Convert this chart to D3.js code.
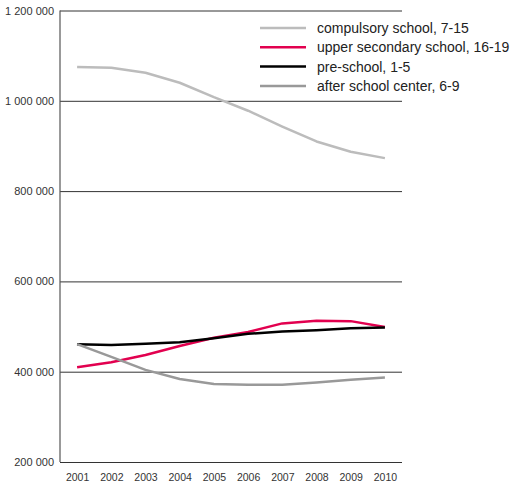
<!DOCTYPE html>
<html>
<head>
<meta charset="utf-8">
<script src="https://cdn.jsdelivr.net/npm/d3@7"></script>
<style>
  body { margin: 0; background: #fff; }
  svg { display: block; font-family: "Liberation Sans", Arial, sans-serif; }
</style>
</head>
<body>
<div id="chart-area"></div>
<script>
const FIGURE = { WIDTH: 522, HEIGHT: 483 };
const MARGINS = { LEFT: 60, TOP: 10.5, RIGHT: 120, BOTTOM: 21 };
const PLOT = {
    WIDTH: FIGURE.WIDTH - MARGINS.LEFT - MARGINS.RIGHT,
    HEIGHT: FIGURE.HEIGHT - MARGINS.TOP - MARGINS.BOTTOM
};

// data
const years = [2001, 2002, 2003, 2004, 2005, 2006, 2007, 2008, 2009, 2010];
const compulsory = [1075000, 1073000, 1062000, 1040000, 1008000, 978000, 943000, 910000, 887000, 873000];
const upperSecondary = [410000, 421000, 437000, 457000, 475000, 488000, 507000, 513000, 512000, 499000];
const preSchool = [461000, 459000, 462000, 465000, 474000, 484000, 489000, 492000, 496000, 498000];
const afterSchool = [461000, 433000, 404000, 384000, 373000, 371000, 371000, 376000, 382000, 387000];
const yTicks = [200000, 400000, 600000, 800000, 1000000, 1200000];

const series = [
    { name: "compulsory school, 7-15", values: compulsory, color: "#bcbcbc" },
    { name: "upper secondary school, 16-19", values: upperSecondary, color: "#e2004f" },
    { name: "pre-school, 1-5", values: preSchool, color: "#000000" },
    { name: "after school center, 6-9", values: afterSchool, color: "#999999" }
];

let svg = d3.select("#chart-area")
    .append("svg")
        .attr("width", FIGURE.WIDTH)
        .attr("height", FIGURE.HEIGHT);

let plot = svg.append("g")
    .attr("transform", `translate(${MARGINS.LEFT}, ${MARGINS.TOP})`);

let x = d3.scalePoint()
    .domain(years)
    .range([0, PLOT.WIDTH])
    .padding(0.5);

let y = d3.scaleLinear()
    .domain([200000, 1200000])
    .range([PLOT.HEIGHT, 0]);

const fmt = v => d3.format(",")(v).replace(/,/g, " ");

// horizontal grid lines and y labels
let yAxis = d3.axisLeft(y)
    .tickValues(yTicks)
    .tickSize(-PLOT.WIDTH)
    .tickPadding(6)
    .tickFormat(fmt);

plot.append("g")
    .attr("class", "y-axis")
    .call(yAxis)
    .call(g => g.select(".domain").remove())
    .call(g => g.selectAll(".tick line").attr("stroke", "#333").attr("stroke-width", 1))
    .call(g => g.selectAll(".tick text")
        .attr("fill", "#333")
        .attr("font-size", 11));

// vertical axis line
plot.append("line")
    .attr("x1", 0).attr("x2", 0)
    .attr("y1", y(1200000)).attr("y2", y(200000))
    .attr("stroke", "#555")
    .attr("stroke-width", 1.2);

// x labels
let xAxis = d3.axisBottom(x)
    .tickSize(0)
    .tickPadding(12);

plot.append("g")
    .attr("class", "x-axis")
    .attr("transform", `translate(0, ${PLOT.HEIGHT})`)
    .call(xAxis)
    .call(g => g.select(".domain").remove())
    .call(g => g.selectAll(".tick text")
        .attr("fill", "#333")
        .attr("font-size", 10.5));

// lines
let line = d3.line()
    .x((d, i) => x(years[i]))
    .y(d => y(d));

plot.selectAll(".series")
    .data(series)
    .enter()
    .append("path")
        .attr("class", "series")
        .attr("fill", "none")
        .attr("stroke", d => d.color)
        .attr("stroke-width", 2.5)
        .attr("stroke-linejoin", "round")
        .attr("d", d => line(d.values));

// legend
let legend = svg.append("g")
    .attr("transform", "translate(260, 28)");

let rows = legend.selectAll(".row")
    .data(series)
    .enter()
    .append("g")
        .attr("class", "row")
        .attr("transform", (d, i) => `translate(0, ${i * 19.3})`);

rows.append("line")
    .attr("x1", 0).attr("x2", 46)
    .attr("stroke", d => d.color)
    .attr("stroke-width", 2.5);

rows.append("text")
    .attr("x", 57)
    .attr("dy", "0.35em")
    .attr("font-size", 14)
    .attr("fill", "#222")
    .text(d => d.name);
</script>
</body>
</html>
